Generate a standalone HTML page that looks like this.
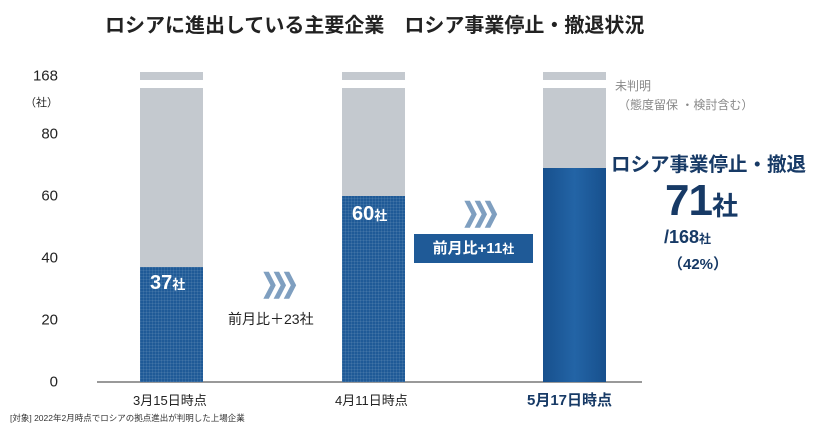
<!DOCTYPE html>
<html><head><meta charset="utf-8"><style>
body{margin:0;width:818px;height:432px;background:#fff;overflow:hidden;font-family:"Liberation Sans","Noto Sans CJK JP",sans-serif;position:relative}
.a{position:absolute;white-space:nowrap}
.y{position:absolute;right:760px;font-size:15px;color:#222;transform:translateY(-50%)}
.bar{position:absolute;width:63px}
.cap{top:72px;height:8px;background:#c4c9cf}
.gray{top:88px;background:#c4c9cf}
.blue{background:#1f5a97;background-image:repeating-linear-gradient(0deg,rgba(255,255,255,.08) 0 1px,transparent 1px 3px),repeating-linear-gradient(90deg,rgba(255,255,255,.08) 0 1px,transparent 1px 3px)}
.chev{position:absolute;font-size:26px;font-weight:bold;color:#7f9fc0;letter-spacing:-9px;transform:scaleX(.8)}
</style></head><body>
<div class="a" style="left:105px;top:9px;font-size:20px;font-weight:bold;color:#222">ロシアに進出している主要企業　ロシア事業停止・撤退状況</div>
<div class="y" style="top:76px">168</div>
<div class="y" style="top:102px;font-size:11px">（社）</div>
<div class="y" style="top:134px">80</div>
<div class="y" style="top:196px">60</div>
<div class="y" style="top:258px">40</div>
<div class="y" style="top:320px">20</div>
<div class="y" style="top:382px">0</div>
<div class="a" style="left:97px;top:381px;width:545px;height:2px;background:#999"></div>

<div class="bar cap" style="left:140px"></div><div class="bar gray" style="left:140px;height:179px"></div><div class="bar blue" style="left:140px;top:267px;height:115px"></div>
<div class="bar cap" style="left:342px"></div><div class="bar gray" style="left:342px;height:108px"></div><div class="bar blue" style="left:342px;top:196px;height:186px"></div>
<div class="bar cap" style="left:543px"></div><div class="bar gray" style="left:543px;height:80px"></div><div class="bar" style="left:543px;top:168px;height:214px;background:linear-gradient(90deg,#17508d,#2364a6 50%,#17508d)"></div>

<div class="a" style="left:150px;top:272px;font-size:20px;font-weight:bold;color:#fff">37<span style="font-size:13px">社</span></div>
<div class="a" style="left:352px;top:203px;font-size:20px;font-weight:bold;color:#fff">60<span style="font-size:13px">社</span></div>

<div class="chev" style="left:257px;top:268px">❯❯❯</div>
<div class="a" style="left:228px;top:309px;font-size:14px;color:#222">前月比＋23社</div>
<div class="chev" style="left:458px;top:197px">❯❯❯</div>
<div class="a" style="left:414px;top:234px;width:119px;height:29px;background:#1f5a97;color:#fff;font-size:15px;font-weight:bold;line-height:29px;text-align:center">前月比+11<span style="font-size:12px">社</span></div>

<div class="a" style="left:615px;top:77px;font-size:12px;color:#888">未判明</div>
<div class="a" style="left:618px;top:96px;font-size:12px;color:#888">（態度留保 ・検討含む）</div>
<div class="a" style="left:611px;top:148px;font-size:19.5px;font-weight:bold;color:#173a66">ロシア事業停止・撤退</div>
<div class="a" style="left:665px;top:176px;font-size:44px;font-weight:bold;color:#173a66;line-height:50px;letter-spacing:-1px">71<span style="font-size:26px">社</span></div>
<div class="a" style="left:664px;top:227px;font-size:18px;font-weight:bold;color:#173a66">/168<span style="font-size:12px">社</span></div>
<div class="a" style="left:668px;top:253px;font-size:15px;font-weight:bold;color:#173a66">（42%）</div>

<div class="a" style="left:133px;top:390px;font-size:13px;color:#222">3月15日時点</div>
<div class="a" style="left:335px;top:390px;font-size:13px;color:#222">4月11日時点</div>
<div class="a" style="left:527px;top:389px;font-size:15px;font-weight:bold;color:#173a66">5月17日時点</div>
<div class="a" style="left:10px;top:412px;font-size:8.5px;color:#333">[対象] 2022年2月時点でロシアの拠点進出が判明した上場企業</div>
</body></html>
